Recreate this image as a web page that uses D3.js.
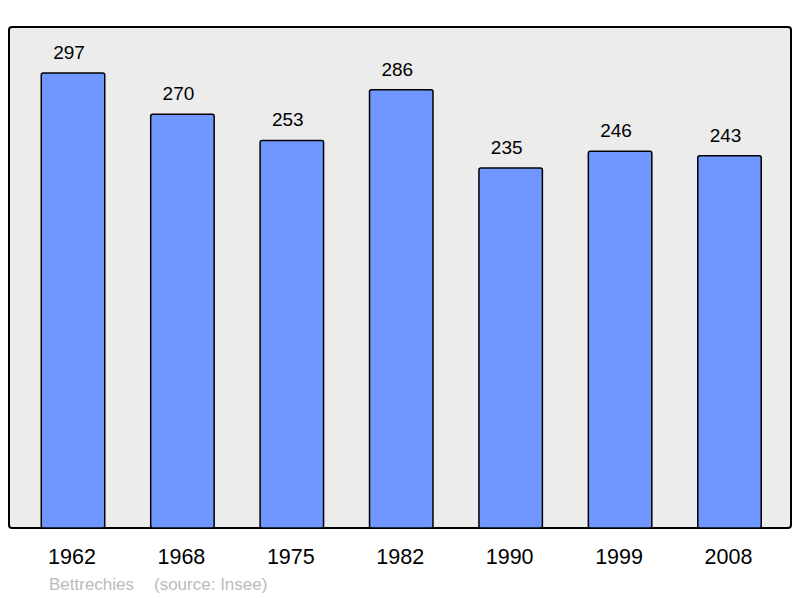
<!DOCTYPE html>
<html>
<head>
<meta charset="utf-8">
<script src="https://cdn.jsdelivr.net/npm/d3@7"></script>
<style>
  body { margin: 0; background: #fff; }
  text { font-family: "Liberation Sans", Arial, sans-serif; }
</style>
</head>
<body>
<div id="chart"></div>
<script>
// donnees
const years = ["1962", "1968", "1975", "1982", "1990", "1999", "2008"];
const population = [297, 270, 253, 286, 235, 246, 243];
const commune = "Bettrechies";
const source = "(source: Insee)";

const W = 800, H = 598;
const panel = {x: 9, y: 27, w: 782, h: 501};

const svg = d3.select("#chart")
  .append("svg")
    .attr("width", W)
    .attr("height", H);

// fond du graphique
svg.append("rect")
  .attr("x", panel.x)
  .attr("y", panel.y)
  .attr("width", panel.w)
  .attr("height", panel.h)
  .attr("rx", 3)
  .attr("fill", "#ececec")
  .attr("stroke", "#000")
  .attr("stroke-width", 2);

const x = d3.scaleBand()
  .domain(years)
  .range([18.3, 784.2])
  .paddingInner(0.42)
  .paddingOuter(0.21);

const y = d3.scaleLinear()
  .domain([0, 297])
  .range([panel.y + panel.h, 73]);

const data = years.map((d, i) => ({year: d, value: population[i]}));

// barres
svg.selectAll("rect.bar")
  .data(data)
  .join("rect")
    .attr("class", "bar")
    .attr("x", d => x(d.year))
    .attr("y", d => y(d.value))
    .attr("width", x.bandwidth())
    .attr("height", d => y(0) - y(d.value))
    .attr("rx", 2)
    .attr("fill", "#7096ff")
    .attr("stroke", "#000")
    .attr("stroke-width", 1.5);

// valeurs (un peu decalees a gauche, comme l'original)
svg.selectAll("text.val")
  .data(data)
  .join("text")
    .attr("class", "val")
    .attr("x", d => x(d.year) + x.bandwidth() / 2 - 4)
    .attr("y", d => y(d.value) - 14)
    .attr("text-anchor", "middle")
    .style("font-size", "19px")
    .text(d => d.value);

// axe des annees
svg.selectAll("text.year")
  .data(years)
  .join("text")
    .attr("class", "year")
    .attr("x", d => x(d) + x.bandwidth() / 2 - 1)
    .attr("y", 564)
    .attr("text-anchor", "middle")
    .style("font-size", "21.5px")
    .text(d => d);

svg.append("text")
  .attr("x", 49)
  .attr("y", 590)
  .style("font-size", "17px")
  .attr("fill", "#bbbbbb")
  .text(commune);

svg.append("text")
  .attr("x", 154)
  .attr("y", 590)
  .style("font-size", "17px")
  .attr("fill", "#bbbbbb")
  .text(source);
</script>
</body>
</html>
